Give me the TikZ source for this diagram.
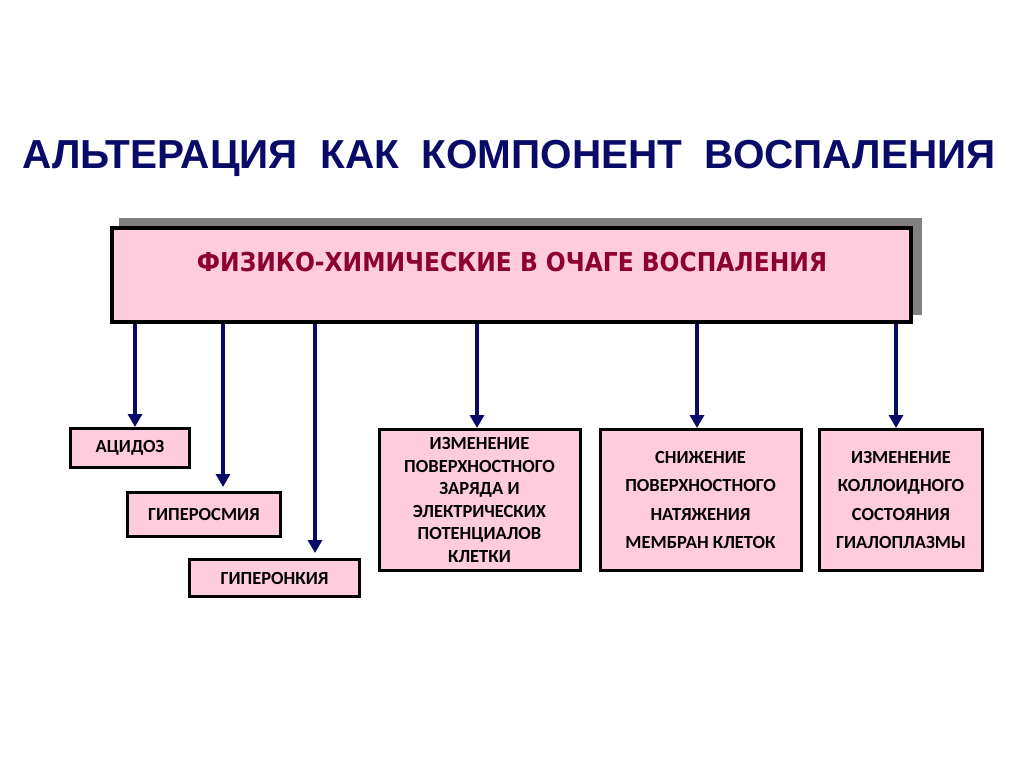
\documentclass[tikz,border=0pt]{standalone}
\usepackage{fontspec}
\setmainfont{Carlito}
\newfontfamily\titlefont{Liberation Sans}
\newfontfamily\headfont{DejaVu Sans Condensed}
\usetikzlibrary{arrows.meta}
\definecolor{boxpink}{RGB}{255,204,221}
\definecolor{navy}{RGB}{10,10,105}
\definecolor{wine}{RGB}{140,0,50}
\definecolor{shadowgray}{RGB}{128,128,128}
\tikzstyle{item} = [draw=black, line width=3pt, fill=boxpink, inner sep=0pt, align=center, font={\bfseries\fontsize{18.5}{22.5}\selectfont}]
\tikzstyle{tall} = [item, minimum height=141pt, font={\bfseries\fontsize{18.5}{28.5}\selectfont}]
\tikzstyle{arrow} = [navy, line width=4pt, -{Triangle[length=13pt,width=14pt]}]

\begin{document}
\begin{tikzpicture}[x=1pt,y=-1pt]
        \useasboundingbox (0,0) rectangle (1024,767);
        \node[font={\titlefont\bfseries\fontsize{40.5}{40.5}\selectfont}, text=navy](title) at (509,158){АЛЬТЕРАЦИЯ\ \ КАК\ \ КОМПОНЕНТ\ \ ВОСПАЛЕНИЯ};
        \fill[shadowgray] (119,218) rectangle (922,315);
        \node[draw=black, line width=4pt, fill=boxpink, minimum width=799pt, minimum height=94pt](main) at (511.5,275){};
        \node[font={\headfont\bfseries\fontsize{26}{26}\selectfont}, text=wine](mainlabel) at (512,262){ФИЗИКО-ХИМИЧЕСКИЕ В ОЧАГЕ ВОСПАЛЕНИЯ};
        \node[item, minimum width=119pt, minimum height=39pt](acid) at (130,448){АЦИДОЗ};
        \node[item, minimum width=153pt, minimum height=44pt](osm) at (204,514.5){ГИПЕРОСМИЯ};
        \node[item, minimum width=170pt, minimum height=37pt](onc) at (274.5,578){ГИПЕРОНКИЯ};
        \node[item, minimum width=201pt, minimum height=141pt](charge) at (479.5,500){ИЗМЕНЕНИЕ\\ПОВЕРХНОСТНОГО\\ЗАРЯДА И\\ЭЛЕКТРИЧЕСКИХ\\ПОТЕНЦИАЛОВ\\КЛЕТКИ};
        \node[tall, minimum width=201pt](tension) at (700.5,500){СНИЖЕНИЕ\\ПОВЕРХНОСТНОГО\\НАТЯЖЕНИЯ\\МЕМБРАН КЛЕТОК};
        \node[tall, minimum width=163pt](colloid) at (901,500){ИЗМЕНЕНИЕ\\КОЛЛОИДНОГО\\СОСТОЯНИЯ\\ГИАЛОПЛАЗМЫ};
        \draw[arrow](135,0 |- main.south)--(135,0 |- acid.north);
        \draw[arrow](223,0 |- main.south)--(223,487);
        \draw[arrow](315,0 |- main.south)--(315,553);
        \draw[arrow](477,0 |- main.south)--(477,0 |- charge.north);
        \draw[arrow](697,0 |- main.south)--(697,0 |- tension.north);
        \draw[arrow](896,0 |- main.south)--(896,0 |- colloid.north);
      \end{tikzpicture}
\end{document}
